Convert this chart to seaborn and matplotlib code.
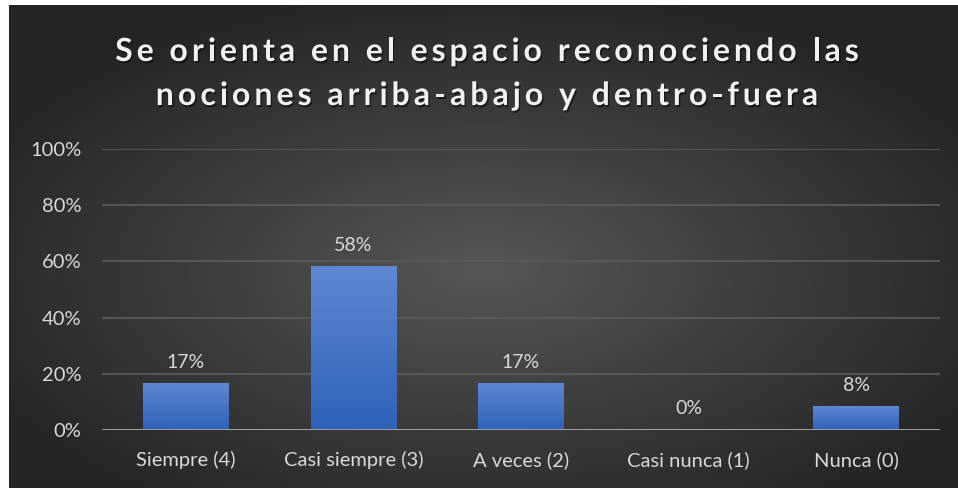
import numpy as np
import matplotlib
matplotlib.use('Agg')
import matplotlib.pyplot as plt
import matplotlib.patheffects as pe
import seaborn as sns
import pandas as pd

# Chart data
categories = ['Siempre (4)', 'Casi siempre (3)', 'A veces (2)', 'Casi nunca (1)', 'Nunca (0)']
values = [0.1667, 0.5833, 0.1667, 0.0, 0.0833]
labels = ['17%', '58%', '17%', '0%', '8%']
y_ticks = [0, 0.2, 0.4, 0.6, 0.8, 1.0]
title_lines = ['Se orienta en el espacio reconociendo las',
               'nociones arriba-abajo y dentro-fuera']

df = pd.DataFrame({'categoria': categories, 'valor': values})

sns.set_theme(style='dark')
plt.rcParams['font.family'] = ['Lato', 'DejaVu Sans']

W, H = 958, 488
fig = plt.figure(figsize=(W / 100, H / 100), dpi=100, facecolor='white')

# Dark radial background like the Excel style
bg = fig.add_axes([9 / W, 0, 949 / W, 483 / H])
yy, xx = np.mgrid[0:1:300j, 0:1:600j]
r = np.sqrt(((xx - 0.5) / 0.75) ** 2 + ((yy - 0.45) / 0.75) ** 2)
r = np.clip(r / 0.8, 0, 1)
light, dark = 0x56 / 255, 0x24 / 255
shade = light + (dark - light) * r
img = np.dstack([shade, shade, shade])
bg.imshow(img, extent=(0, 1, 0, 1), aspect='auto', origin='lower')
bg.set_axis_off()

ax = fig.add_axes([102 / W, 1 - 430 / H, 838 / W, 281 / H])
ax.patch.set_alpha(0)
sns.barplot(data=df, x='categoria', y='valor', ax=ax, width=0.51, color='#4472c4')

# vertical gradient on each bar
grad = np.linspace(0, 1, 100).reshape(-1, 1)
top_c = np.array([0x5f, 0x87, 0xd2]) / 255
bot_c = np.array([0x2e, 0x62, 0xb8]) / 255
for p in ax.patches:
    x0, w, h = p.get_x(), p.get_width(), p.get_height()
    if h <= 0:
        continue
    g = bot_c + (top_c - bot_c) * grad[:, :, None]
    ax.imshow(g, extent=(x0, x0 + w, 0, h), aspect='auto', origin='lower', zorder=3)
    p.set_visible(False)

ax.set_xlim(-0.5, len(categories) - 0.5)
ax.set_ylim(0, 1)
ax.set_yticks(y_ticks)
ax.set_yticklabels([f'{int(t * 100)}%' for t in y_ticks])
ax.set_xlabel('')
ax.set_ylabel('')
for s in ax.spines.values():
    s.set_visible(False)
ax.grid(axis='y', color='#5c5c5c', linewidth=1.2, zorder=0)
ax.grid(axis='x', visible=False)
ax.set_axisbelow(True)
ax.axhline(0, color='#a6a6a6', linewidth=2, zorder=4)
ax.tick_params(axis='both', colors='#d9d9d9', labelsize=14.5, length=0)
ax.tick_params(axis='y', pad=15)
ax.tick_params(axis='x', pad=15)

for i, (v, lab) in enumerate(zip(values, labels)):
    ax.annotate(lab, (i, v), xytext=(0, 9), textcoords='offset points',
                ha='center', va='bottom', color='#d9d9d9', fontsize=14)

# title with letter spacing (Excel style), drawn char by char
renderer = fig.canvas.get_renderer()
title_kw = dict(fontsize=23, fontweight='bold', color='#f2f2f2')
shadow = [pe.withSimplePatchShadow(offset=(1, -1.5), shadow_rgbFace='black', alpha=0.5)]


def text_width(s):
    t = fig.text(0, 0, s, **title_kw)
    w = t.get_window_extent(renderer).width
    t.remove()
    return w


spacing = 4.0
wx = text_width('x')
for line, base_y in zip(title_lines, [61, 105]):
    pos = [text_width(line[:k] + 'x') - wx if k else 0 for k in range(len(line))]
    total = text_width(line) + spacing * (len(line) - 1)
    start = 487 - total / 2
    for k, ch in enumerate(line):
        if ch == ' ':
            continue
        fig.text((start + pos[k] + spacing * k) / W, 1 - base_y / H, ch,
                 ha='left', va='baseline', path_effects=shadow, **title_kw)

fig.savefig('out.png', dpi=100, facecolor='white')
